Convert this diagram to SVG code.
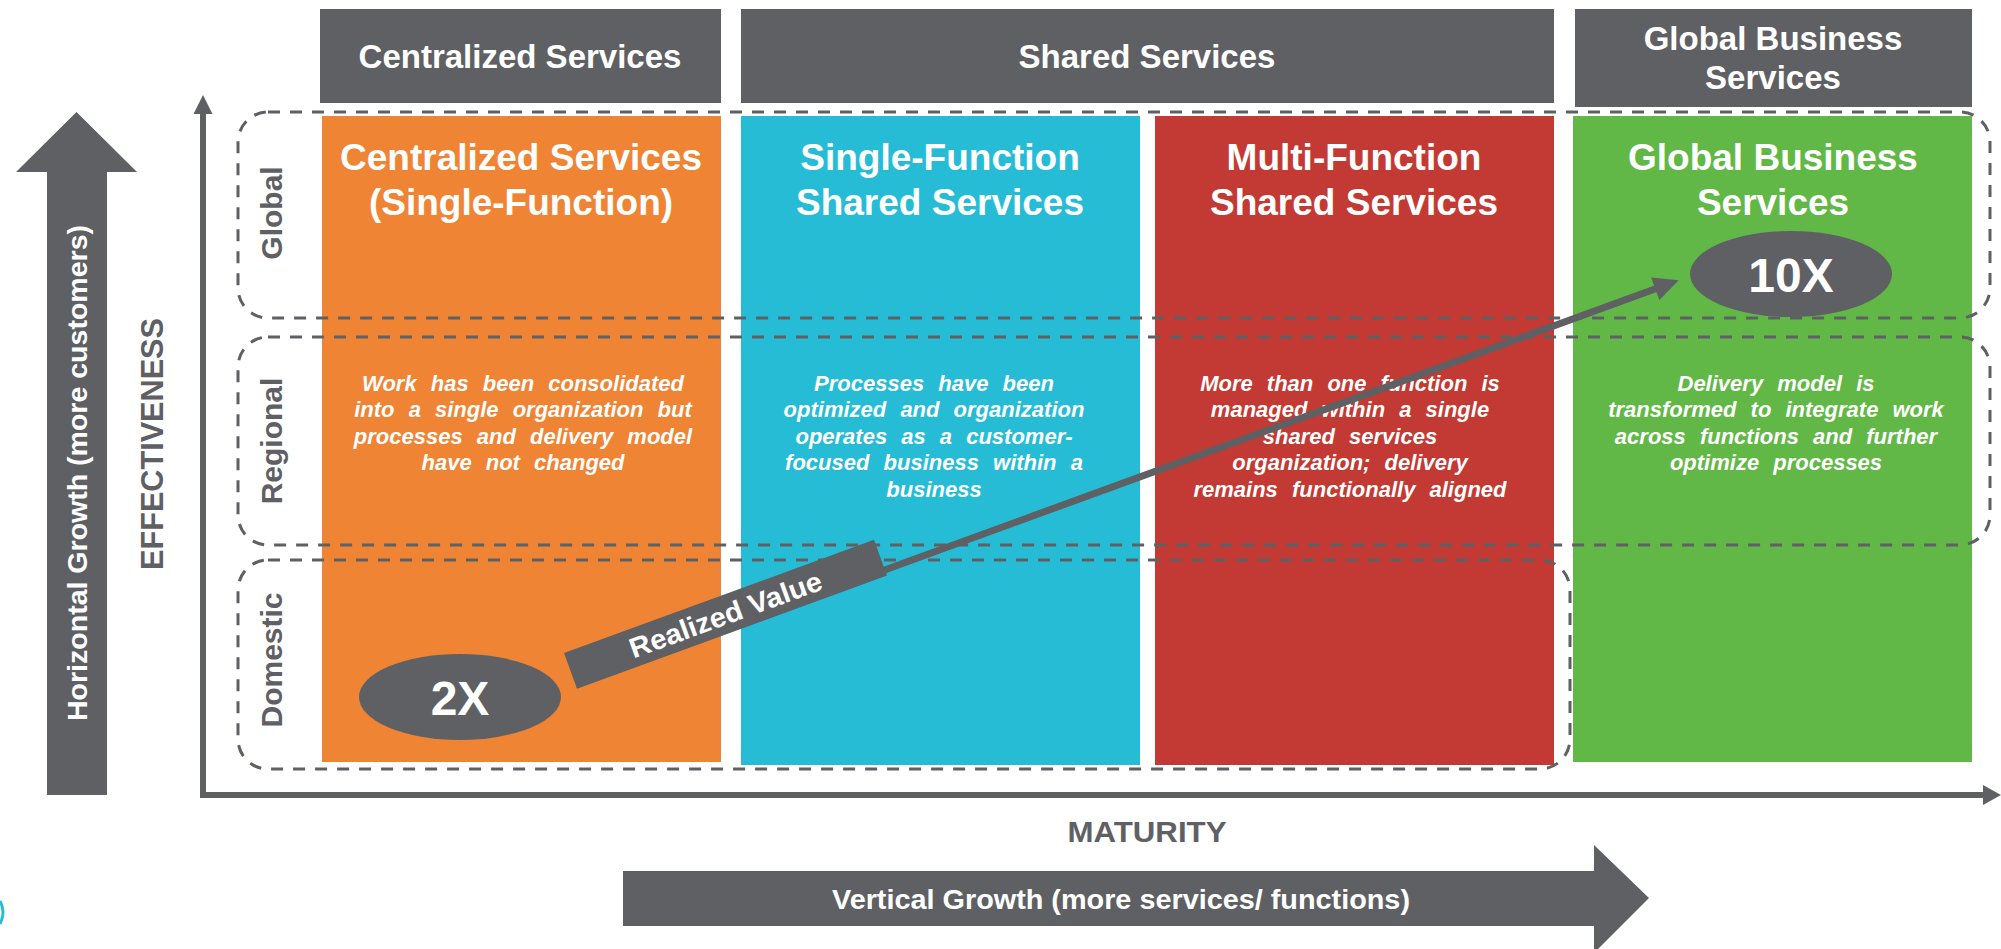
<svg xmlns="http://www.w3.org/2000/svg" width="2001" height="949" viewBox="0 0 2001 949">
<style>
  .gray{fill:#5f6064}
  .hdr{font-family:"Liberation Sans",Arial,sans-serif;font-weight:bold;font-size:33px;fill:#ffffff;text-anchor:middle}
  .ttl{font-family:"Liberation Sans",Arial,sans-serif;font-weight:bold;font-size:37px;fill:#ffffff;text-anchor:middle}
  .desc{font-family:"Liberation Sans",Arial,sans-serif;font-weight:bold;font-style:italic;font-size:22px;fill:#ffffff;text-anchor:middle;word-spacing:8px}
  .row{font-family:"Liberation Sans",Arial,sans-serif;font-weight:bold;font-size:30px;fill:#5f6064;text-anchor:middle}
  .dash{fill:none;stroke:#5f6064;stroke-width:3;stroke-dasharray:12 10}
  .big{font-family:"Liberation Sans",Arial,sans-serif;font-weight:bold;font-size:48px;fill:#ffffff;text-anchor:middle}
  .axlbl{font-family:"Liberation Sans",Arial,sans-serif;font-weight:bold;fill:#5f6064;text-anchor:middle}
  .wlbl{font-family:"Liberation Sans",Arial,sans-serif;font-weight:bold;fill:#ffffff;text-anchor:middle}
</style>
<rect x="0" y="0" width="2001" height="949" fill="#ffffff"/>

<!-- Header bars -->
<g id="hdr-centralized">
  <rect x="320" y="9" width="401" height="94" class="gray"/>
  <text x="520" y="68" class="hdr">Centralized Services</text>
</g>
<g id="hdr-shared">
  <rect x="741" y="9" width="813" height="94" class="gray"/>
  <text x="1147" y="68" class="hdr">Shared Services</text>
</g>
<g id="hdr-gbs">
  <rect x="1575" y="9" width="397" height="98" class="gray"/>
  <text x="1773" y="50" class="hdr">Global Business</text>
  <text x="1773" y="89" class="hdr">Services</text>
</g>

<!-- Columns -->
<g id="col-centralized">
  <rect x="322" y="116" width="399" height="646" fill="#ee8434"/>
  <text x="521" y="170" class="ttl">Centralized Services</text>
  <text x="521" y="215" class="ttl">(Single-Function)</text>
  <text class="desc"><tspan x="523" y="391">Work has been consolidated</tspan><tspan x="523" y="417">into a single organization but</tspan><tspan x="523" y="444">processes and delivery model</tspan><tspan x="523" y="470">have not changed</tspan></text>
</g>
<g id="col-single">
  <rect x="741" y="116" width="399" height="649" fill="#26bcd6"/>
  <text x="940" y="170" class="ttl">Single-Function</text>
  <text x="940" y="215" class="ttl">Shared Services</text>
  <text class="desc"><tspan x="934" y="391">Processes have been</tspan><tspan x="934" y="417">optimized and organization</tspan><tspan x="934" y="444">operates as a customer-</tspan><tspan x="934" y="470">focused business within a</tspan><tspan x="934" y="497">business</tspan></text>
</g>
<g id="col-multi">
  <rect x="1155" y="116" width="399" height="649" fill="#c23a33"/>
  <text x="1354" y="170" class="ttl">Multi-Function</text>
  <text x="1354" y="215" class="ttl">Shared Services</text>
  <text class="desc"><tspan x="1350" y="391">More than one function is</tspan><tspan x="1350" y="417">managed within a single</tspan><tspan x="1350" y="444">shared services</tspan><tspan x="1350" y="470">organization; delivery</tspan><tspan x="1350" y="497">remains functionally aligned</tspan></text>
</g>
<g id="col-gbs">
  <rect x="1573" y="116" width="399" height="646" fill="#62b846"/>
  <text x="1773" y="170" class="ttl">Global Business</text>
  <text x="1773" y="215" class="ttl">Services</text>
  <text class="desc"><tspan x="1776" y="391">Delivery model is</tspan><tspan x="1776" y="417">transformed to integrate work</tspan><tspan x="1776" y="444">across functions and further</tspan><tspan x="1776" y="470">optimize processes</tspan></text>
</g>

<!-- Dashed rows -->
<g id="row-global">
  <rect x="238" y="112" width="1752" height="206" rx="30" ry="30" class="dash"/>
  <text transform="translate(282,213) rotate(-90)" class="row">Global</text>
</g>
<g id="row-regional">
  <rect x="238" y="337" width="1752" height="208" rx="30" ry="30" class="dash"/>
  <text transform="translate(282,441) rotate(-90)" class="row">Regional</text>
</g>
<g id="row-domestic">
  <rect x="238" y="560" width="1332" height="209" rx="30" ry="30" class="dash"/>
  <text transform="translate(282,660) rotate(-90)" class="row">Domestic</text>
</g>

<!-- Axis labels / growth arrows -->
<g id="horizontal-growth">
  <polygon points="47,795 47,172 16,172 76.5,112 137,172 107,172 107,795" class="gray"/>
  <text transform="translate(87,473) rotate(-90)" class="wlbl" font-size="28" textLength="496" lengthAdjust="spacingAndGlyphs">Horizontal Growth (more customers)</text>
</g>
<g id="effectiveness">
  <text transform="translate(163,444) rotate(-90)" class="axlbl" font-size="32" textLength="252" lengthAdjust="spacingAndGlyphs">EFFECTIVENESS</text>
</g>
<g id="maturity">
  <text x="1147" y="842" class="axlbl" font-size="30" textLength="159" lengthAdjust="spacingAndGlyphs">MATURITY</text>
</g>
<g id="vertical-growth">
  <polygon points="623,871 1594,871 1594,845 1649,898 1594,953 1594,926 623,926" class="gray"/>
  <text x="1121" y="909" class="wlbl" font-size="28" textLength="578" lengthAdjust="spacingAndGlyphs">Vertical Growth (more services/ functions)</text>
</g>

<!-- Value nodes -->
<g id="node-2x">
  <ellipse cx="460" cy="697" rx="101" ry="43" class="gray"/>
  <text x="460" y="715" class="big">2X</text>
</g>
<g id="node-10x">
  <ellipse cx="1791" cy="274" rx="101" ry="43" class="gray"/>
  <text x="1791" y="292" class="big">10X</text>
</g>

<!-- Connectors -->
<g id="connectors">
  <path d="M203,798 V112" stroke="#5f6064" stroke-width="6" fill="none"/>
  <polygon points="193.5,114 203,95 212.5,114" class="gray"/>
  <path d="M200,795 H1985" stroke="#5f6064" stroke-width="6" fill="none"/>
  <polygon points="1983,785 2001,795 1983,805" class="gray"/>
  <g id="realized-value" transform="translate(564,653) rotate(-20.05)">
    <rect x="0" y="0" width="330" height="38" class="gray"/>
    <rect x="326" y="28.5" width="828" height="7" class="gray"/>
    <polygon points="1150,20 1175,32 1150,44" class="gray"/>
    <text x="165" y="29" class="wlbl" font-size="28" textLength="203" lengthAdjust="spacingAndGlyphs">Realized Value</text>
  </g>
</g>

<path d="M0,901 Q6,912 0,924" stroke="#26bcd6" stroke-width="3" fill="none"/>
</svg>
